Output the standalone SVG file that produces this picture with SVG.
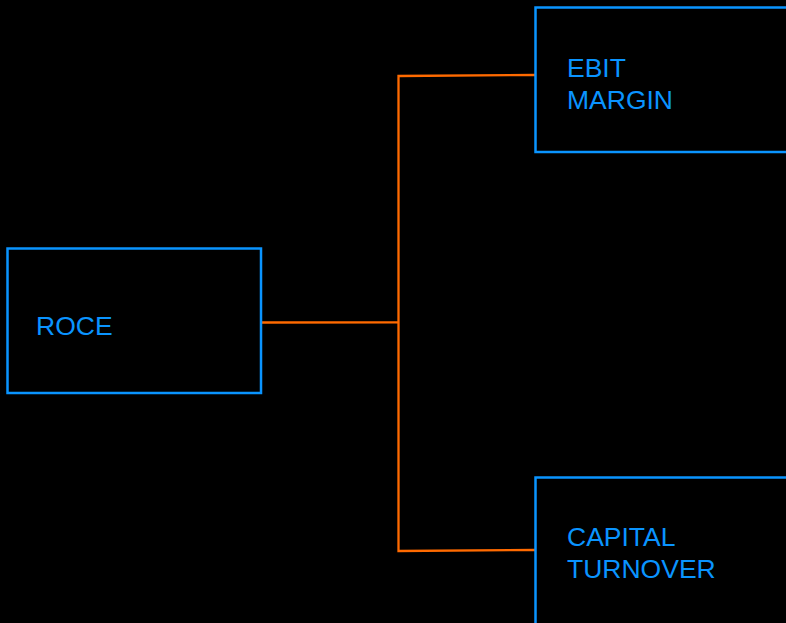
<svg xmlns="http://www.w3.org/2000/svg" width="786" height="623" viewBox="0 0 786 623">
  <style>
    .box { fill: #000000; stroke: #0a94ff; stroke-width: 2.5; }
    .label { fill: #0a94ff; font-family: "Liberation Sans", Arial, sans-serif; font-size: 26.5px; }
    .link { fill: none; stroke: #ff6a00; stroke-width: 2.3; stroke-linejoin: miter; }
  </style>
  <rect width="786" height="623" fill="#000000"/>
  <g id="connectors">
    <polyline class="link" points="261,322.5 398.5,322.3"/>
    <polyline class="link" points="535,75 398.5,76 398.5,551 535,550"/>
  </g>
  <g id="roce">
    <rect class="box" x="7.5" y="248.5" width="253.5" height="144.5"/>
    <text class="label" x="36" y="335">ROCE</text>
  </g>
  <g id="ebit-margin">
    <rect class="box" x="535.5" y="7.5" width="260" height="144.5"/>
    <text class="label" x="567" y="77">EBIT</text>
    <text class="label" x="567" y="108.5">MARGIN</text>
  </g>
  <g id="capital-turnover">
    <rect class="box" x="535.5" y="477.5" width="260" height="160"/>
    <text class="label" x="567" y="545.5">CAPITAL</text>
    <text class="label" x="567" y="578">TURNOVER</text>
  </g>
</svg>
